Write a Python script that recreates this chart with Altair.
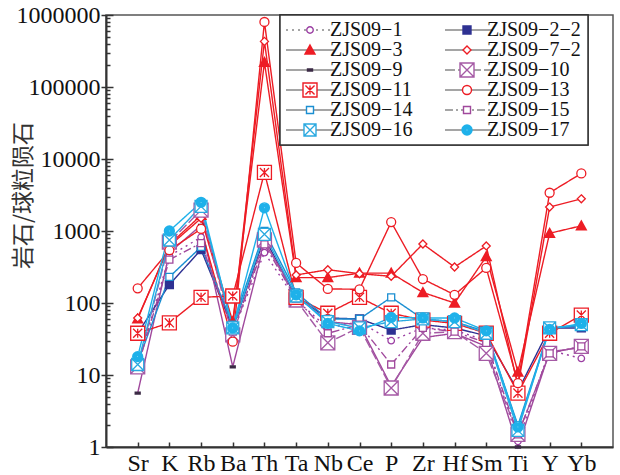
import altair as alt
import pandas as pd

elements = ["Sr", "K", "Rb", "Ba", "Th", "Ta", "Nb", "Ce", "P", "Zr", "Hf", "Sm", "Ti", "Y", "Yb"]
series = ["ZJS09−1", "ZJS09−2−2", "ZJS09−3", "ZJS09−7−2", "ZJS09−9", "ZJS09−10",
          "ZJS09−11", "ZJS09−13", "ZJS09−14", "ZJS09−15", "ZJS09−16", "ZJS09−17"]

zjs09_1 = [14, 450, 820, 40, 500, 110, 45, 55, 30, 45, 42, 30, 1.2, 22, 17]
zjs09_2_2 = [38, 180, 550, 45, 800, 120, 62, 60, 42, 50, 45, 35, 6, 45, 45]
zjs09_3 = [60, 650, 1650, 55, 220000, 225, 225, 260, 260, 140, 100, 440, 11, 930, 1180]
zjs09_7_2 = [62, 620, 1500, 50, 430000, 245, 290, 255, 235, 660, 316, 620, 7, 2150, 2800]
zjs09_9 = [5.6, 500, 1200, 13, 700, 130, 55, 50, 7, 33, 38, 25, 1.0, 21, 24]
zjs09_10 = [13, 700, 1950, 36, 750, 110, 28, 46, 6.6, 38, 40, 20, 1.5, 20, 25]
zjs09_11 = [38, 53, 120, 125, 6500, 120, 72, 120, 72, 58, 52, 38, 5.6, 38, 68]
zjs09_13 = [160, 540, 1070, 29, 800000, 360, 157, 155, 1330, 215, 130, 307, 7.7, 3400, 6300]
zjs09_14 = [15, 230, 600, 50, 1000, 140, 60, 60, 120, 60, 55, 40, 2.0, 45, 48]
zjs09_15 = [13, 400, 680, 40, 650, 115, 38, 50, 14, 45, 40, 28, 1.5, 20, 25]
zjs09_16 = [14, 750, 2200, 45, 900, 125, 55, 45, 55, 60, 55, 38, 1.7, 45, 50]
zjs09_17 = [18, 1000, 2500, 45, 2100, 130, 52, 41, 63, 62, 62, 41, 1.9, 43, 52]

values = [zjs09_1, zjs09_2_2, zjs09_3, zjs09_7_2, zjs09_9, zjs09_10,
          zjs09_11, zjs09_13, zjs09_14, zjs09_15, zjs09_16, zjs09_17]

# legend is filled column by column: left column first, then right column
legend_order = [series[i] for i in (0, 2, 4, 6, 8, 10, 1, 3, 5, 7, 9, 11)]

# styles (in series order)
RED = "#ed1c24"
PUR = "#a0489c"
line_colors = ["#9b3fa3", "#2e3192", RED, RED, PUR, "#a55aa5", RED, RED, "#1b8fd2", PUR, "#2aa9e0", "#1eb1ea"]
dashes = [[2, 4], [1, 0], [1, 0], [1, 0], [1, 0], [10, 3], [1, 0], [1, 0], [1, 0], [8, 3, 2, 3], [1, 0], [1, 0]]
mark_strokes = ["#9b3fa3", "#2e3192", RED, RED, "#3b2a45", "#a55aa5", RED, RED, "#1b8fd2", PUR, "#2aa9e0", "#1eb1ea"]


def circ(r):
    r = round(r, 3)
    return f"M{-r},0A{r},{r} 0 1,0 {r},0A{r},{r} 0 1,0 {-r},0Z"


def sq(h):
    h = round(h, 3)
    return f"M{-h},{-h}H{h}V{h}H{-h}Z"


def tri(s):
    def p(x, y):
        return f"{round(x * s, 3)},{round(0.2 + (y - 0.2) * s, 3)}"
    return f"M{p(0, -1)}L{p(1, 0.8)}L{p(-1, 0.8)}Z"


def filled(fn, outer, steps):
    return "".join(fn(outer * k) for k in steps)


def boxx(h):
    return sq(h) + f"M{-h},{-h}L{h},{h}M{h},{-h}L{-h},{h}"


def boxstar(h):
    k = round(h * 0.65, 2)
    return sq(h) + f"M{-k},{-k}L{k},{k}M{k},{-k}L{-k},{k}M0,{-k}V{k}"


STEPS = [1, 0.75, 0.5, 0.25, 0.06]
shapes = [
    circ(0.65),                               # 1   open circle
    filled(sq, 0.8, STEPS),                   # 2-2 filled square
    "".join(tri(k) for k in STEPS),           # 3   filled triangle
    "M0,-0.8L0.8,0L0,0.8L-0.8,0Z",            # 7-2 open diamond
    "M-0.5,-0.2H0.5V0.2H-0.5ZM-0.5,0H0.5",    # 9   small bar
    boxx(1.4),                                # 10  boxed x
    boxstar(1.4),                             # 11  boxed asterisk
    circ(0.9),                                # 13  open circle
    sq(0.7),                                  # 14  open square
    sq(0.7),                                  # 15  open square
    boxx(1.2),                                # 16  boxed x
    filled(circ, 1.0, STEPS),                 # 17  filled circle
]


def by_legend(style):
    lut = dict(zip(series, style))
    return [lut[s] for s in legend_order]


rows = []
for name, vals in zip(series, values):
    for i, (el, v) in enumerate(zip(elements, vals)):
        rows.append({"elem": el, "idx": i, "v": v, "s1": name, "s2": name})
df = pd.DataFrame(rows)

# marker shape chosen per series (works both for plotted points and legend entries)
names_js = "[" + ",".join(f"'{n}'" for n in series) + "]"
paths_js = "[" + ",".join(f"'{p}'" for p in shapes) + "]"
shape_expr = f"{paths_js}[indexof({names_js}, datum.s2 || datum.value)]"

W, H = 507, 432
major = [1, 10, 100, 1000, 10000, 100000, 1000000]
all_ticks = sorted(set([m * 10 ** k for k in range(6) for m in range(1, 10)] + [1000000]))
major_test = "indexof([1,10,100,1000,10000,100000,1000000], datum.value) >= 0"

FONT = "Liberation Serif"
x_scale = alt.Scale(type="point", padding=1)
y_scale = alt.Scale(type="log", domain=[1, 1000000], nice=False)

leg_common = dict(orient="none", legendX=174, legendY=0, columns=2, symbolSize=100,
                  symbolStrokeWidth=1.4, labelFont=FONT, labelFontSize=20, padding=5,
                  rowPadding=0, columnPadding=29, symbolOffset=15, labelOffset=10,
                  title=None, cornerRadius=0, labelLimit=300, symbolOpacity=1)
leg_lines = alt.Legend(symbolType="M-4.8,0H4.8", labelColor="transparent", labelOpacity=0,
                       strokeColor="#333", fillColor="white", **leg_common)
leg_marks = alt.Legend(labelColor="#111", strokeColor="transparent", fillColor="transparent",
                       symbolFillColor="white", **leg_common)

lines = alt.Chart(df).mark_line(strokeWidth=1.4).encode(
    x=alt.X("elem:N", sort=elements, scale=x_scale,
            axis=alt.Axis(orient="bottom", title=None, ticks=False, labelAngle=0,
                          labelFont=FONT, labelFontSize=24, labelPadding=4,
                          labelColor="#111", domainColor="#333", domainWidth=2)),
    y=alt.Y("v:Q", scale=y_scale,
            axis=alt.Axis(orient="left", values=major, format="d", title="岩石/球粒陨石",
                          tickSize=5, tickColor="#333", tickWidth=1.5, labelPadding=1,
                          labelFont=FONT, labelFontSize=24, labelColor="#111",
                          titleFont="Noto Sans CJK SC", titleFontSize=23,
                          titleFontWeight="normal", titleX=-83, titleY=180, titleAngle=270,
                          titleBaseline="middle", titleAlign="center", titleColor="#333",
                          domainColor="#333", domainWidth=2, grid=False)),
    color=alt.Color("s1:N", sort=legend_order, scale=alt.Scale(range=by_legend(line_colors)),
                    legend=leg_lines),
    strokeDash=alt.StrokeDash("s1:N", sort=legend_order, scale=alt.Scale(range=by_legend(dashes)),
                              legend=leg_lines),
    order=alt.Order("idx:Q"),
)

points = alt.Chart(df).mark_point(size=100, strokeWidth=1.3, opacity=1, fill="white",
                                  fillOpacity=1, shape=alt.ExprRef(shape_expr)).encode(
    x=alt.X("elem:N", sort=elements, scale=x_scale,
            axis=alt.Axis(orient="top", offset=-H, labels=False, domain=False, title=None,
                          tickSize=5, tickColor="#333", tickWidth=1.5)),
    y=alt.Y("v:Q", scale=y_scale,
            axis=alt.Axis(orient="right", offset=-W, values=all_ticks, labels=False,
                          domain=False, title=None, grid=False,
                          tickSize={"condition": {"test": major_test, "value": 7}, "value": 4},
                          tickColor="#333", tickWidth=1.5)),
    stroke=alt.Stroke("s2:N", sort=legend_order, scale=alt.Scale(range=by_legend(mark_strokes)),
                      legend=leg_marks),
)

chart = alt.layer(lines, points).resolve_axis(x="independent", y="independent").properties(
    width=W, height=H,
    padding={"left": 106, "top": 15, "right": 7, "bottom": 28},
    autosize=alt.AutoSizeParams(type="none"),
    background="white",
).configure_view(stroke="#555", strokeWidth=1.5).configure_axis(grid=False).configure_legend(
    strokeWidth=1.5)

chart.save("out.html", embed_options={"renderer": "svg", "actions": False})
